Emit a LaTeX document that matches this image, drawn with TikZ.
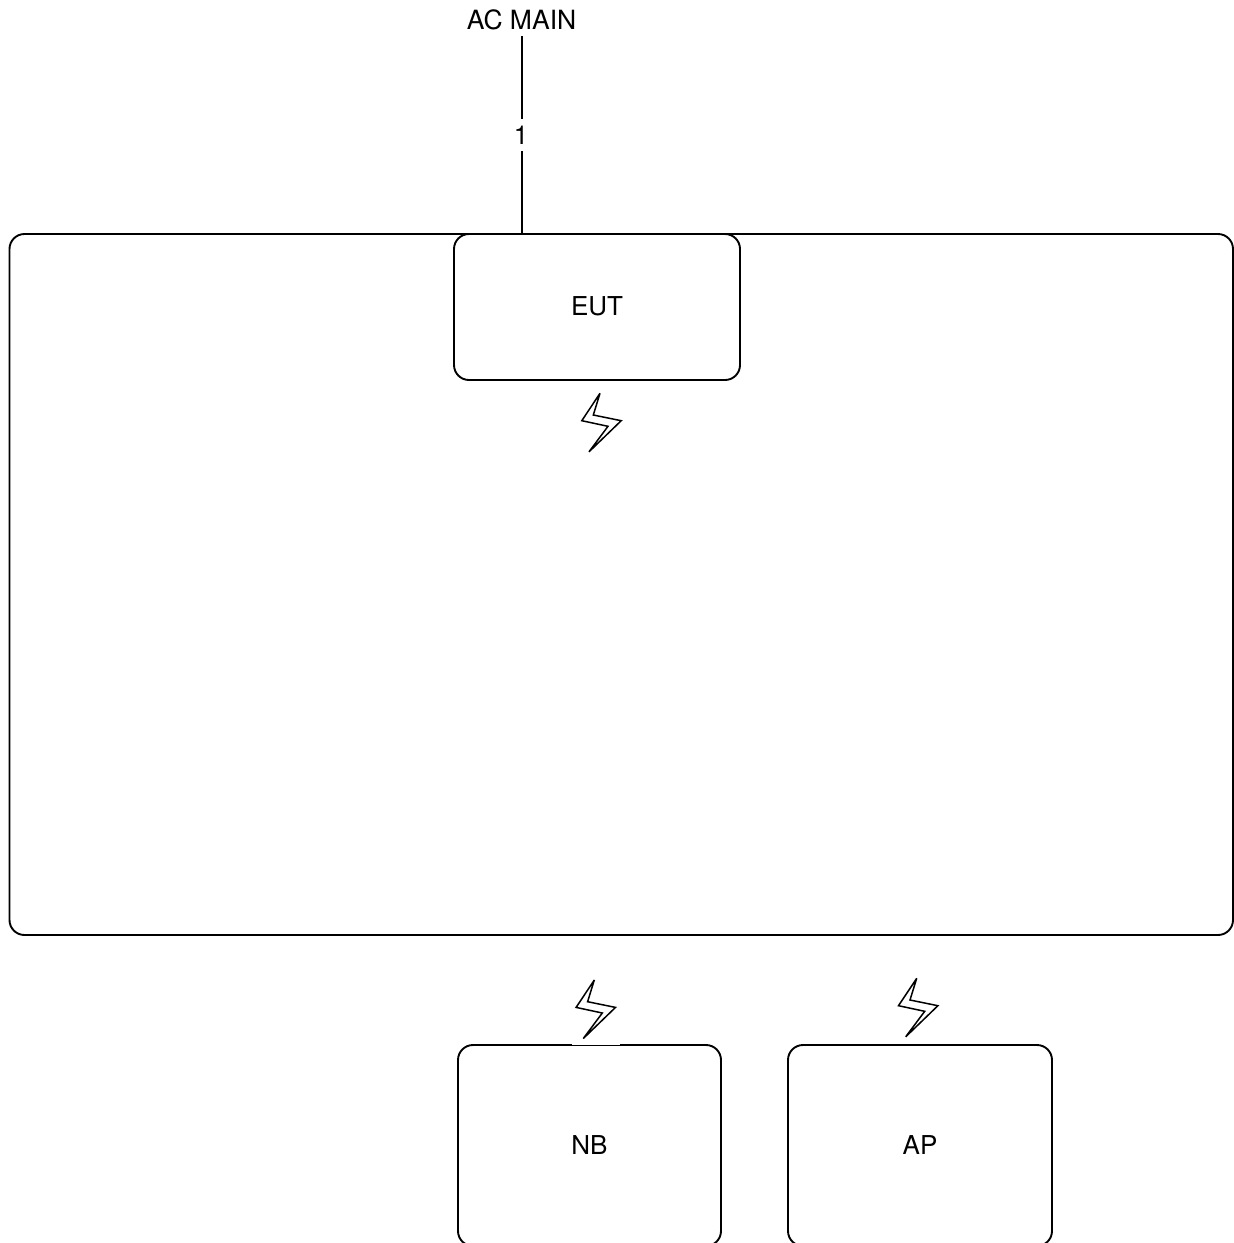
\documentclass[tikz,border=0pt]{standalone}
\usepackage{fontspec}
\setmainfont{TeX Gyre Heros}
\tikzset{
  box/.style={draw=black,line width=1.9pt,rounded corners=15pt,inner sep=0pt,font=\fontsize{26}{31}\selectfont},
  lbl/.style={inner sep=0pt,font=\fontsize{26.5}{31}\selectfont},
  wire/.style={draw=black,line width=2pt},
  tag/.style={fill=white,inner sep=0pt,minimum height=32pt,minimum width=14pt,font=\fontsize{26}{31}\selectfont},
  zap/.style={draw=black,line width=1.5pt,line join=miter,miter limit=3}
}
\newcommand{\zapat}[1]{\draw[zap,shift={(#1)}] (0,0) -- (-18.2,27.4) -- (8,33) -- (-11,58.5) -- (21.2,27.4) -- (-6.7,21.7) -- cycle;}
\begin{document}
\begin{tikzpicture}[x=1pt,y=-1pt]
\useasboundingbox (0,0) rectangle (1234,1243);
\fill[white] (0,0) rectangle (1234,1243);
\node[box,minimum width=1223.5pt,minimum height=701pt] (room) at (621.25,584.5) {};
\node[box,fill=white,minimum width=286pt,minimum height=146pt] (eut) at (597,307) {\raisebox{1.5pt}{EUT}};
\node[box,minimum width=263pt,minimum height=201pt] (nb) at (589.5,1145.5) {NB};
\node[box,minimum width=264pt,minimum height=201pt] (ap) at (920,1145.5) {AP};
\node[lbl] (ac) at (521.5,19.5) {AC MAIN};
\coordinate (acbot) at (522,36);
\draw[wire] (acbot) -- (acbot |- eut.north);
\node[tag] (one) at (521,135) {1};
\zapat{600,393.3}
\zapat{594.3,980}
\zapat{916.7,978.3}
\fill[white] (572,1043) rectangle (620,1044.6);
\end{tikzpicture}
\end{document}
